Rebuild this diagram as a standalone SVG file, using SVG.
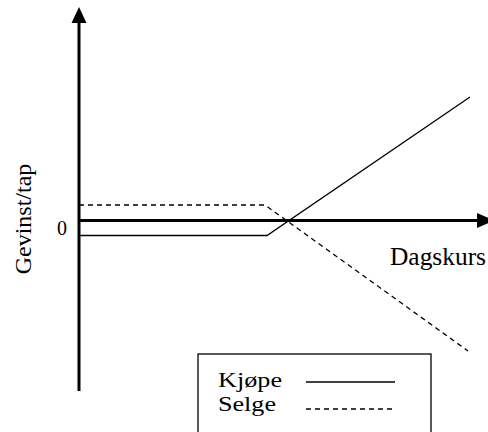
<svg xmlns="http://www.w3.org/2000/svg" width="488" height="432" viewBox="0 0 488 432">
<style>
text{font-family:"Liberation Serif","Times New Roman",serif;fill:#000}
.ax{stroke:#000;stroke-width:3;fill:none}
.ln{stroke:#000;stroke-width:1.3;fill:none}
.ds{stroke:#000;stroke-width:1.3;fill:none;stroke-dasharray:5,4}
</style>
<rect width="488" height="432" fill="#fff"/>
<g id="connectors">
<line class="ax" x1="79" y1="391" x2="79" y2="20"/>
<polygon points="79,7 71.5,23 86.5,23" fill="#000"/>
<line class="ax" x1="79" y1="220.5" x2="480" y2="220.5"/>
<polygon points="494,220.5 477,213 477,228" fill="#000"/>
<polyline id="kjope" class="ln" points="79,235.5 267,235.5 470,97"/>
<polyline id="selge" class="ds" points="79,205 265,205 468,351"/>
</g>
<g id="ylabel"><text x="31" y="219" font-size="24" text-anchor="middle" transform="rotate(-90 31 219)">Gevinst/tap</text></g>
<g id="zero"><text x="57" y="235" font-size="20">0</text></g>
<g id="xlabel"><text x="390" y="265" font-size="25" textLength="96" lengthAdjust="spacingAndGlyphs">Dagskurs</text></g>
<g id="legend">
<rect x="198" y="354" width="233" height="90" fill="#fff" stroke="#000" stroke-width="1.3"/>
<text x="218" y="387" font-size="22" textLength="64" lengthAdjust="spacingAndGlyphs">Kjøpe</text>
<text x="218" y="411" font-size="22" textLength="58" lengthAdjust="spacingAndGlyphs">Selge</text>
<line class="ln" x1="306" y1="382" x2="395" y2="382"/>
<line class="ds" x1="306" y1="409" x2="395" y2="409"/>
</g>
</svg>
